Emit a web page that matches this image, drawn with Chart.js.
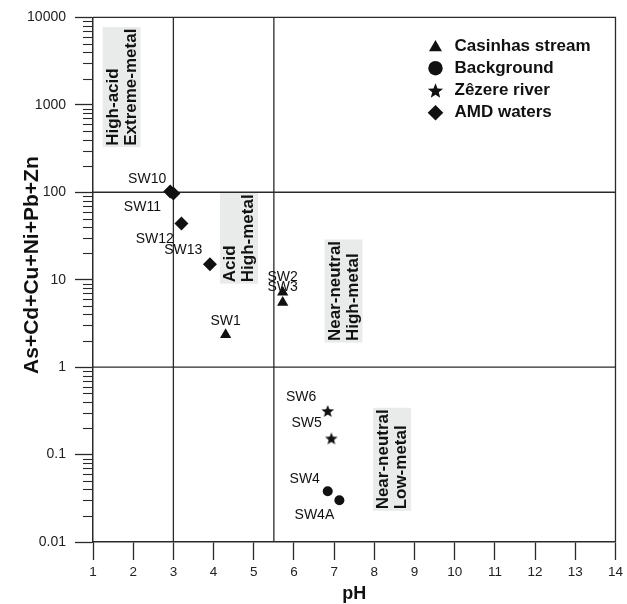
<!DOCTYPE html>
<html>
<head>
<meta charset="utf-8">
<title>pH vs As+Cd+Cu+Ni+Pb+Zn</title>
<script src="https://cdn.jsdelivr.net/npm/chart.js@4.4.1/dist/chart.umd.min.js"></script>
<style>
html,body{margin:0;padding:0;background:#ffffff;}
#box{position:relative;width:627px;height:604px;}
canvas{display:block;}
</style>
</head>
<body>
<div id="box"><canvas id="chart" width="627" height="604"></canvas></div>
<script>
// ---------------- data ----------------
const seriesNames = ['Casinhas stream', 'Background', 'Zêzere river', 'AMD waters'];

const casinhasSites = ['SW1', 'SW2', 'SW3'];
const casinhasPH    = [4.3, 5.72, 5.72];
const casinhasMetal = [2.35, 7.2, 5.5];

const backgroundSites = ['SW4', 'SW4A'];
const backgroundPH    = [6.84, 7.13];
const backgroundMetal = [0.038, 0.030];

const zezereSites = ['SW6', 'SW5'];
const zezerePH    = [6.84, 6.93];
const zezereMetal = [0.315, 0.153];

const amdSites = ['SW10', 'SW11', 'SW12', 'SW13'];
const amdPH    = [2.92, 3.0, 3.2, 3.91];
const amdMetal = [102, 97, 44, 15];

const phLimits    = [3, 5.5];
const metalLimits = [1, 100];

const xTickValues = [1, 2, 3, 4, 5, 6, 7, 8, 9, 10, 11, 12, 13, 14];
const yTickValues = [0.01, 0.1, 1, 10, 100, 1000, 10000];
const yTickLabels = ['0.01', '0.1', '1', '10', '100', '1000', '10000'];

const regionTexts = [
  ['High-acid', 'Extreme-metal'],
  ['Acid', 'High-metal'],
  ['Near-neutral', 'High-metal'],
  ['Near-neutral', 'Low-metal']
];

// ---------------- layout / style (not data) ----------------
const regionAnchorPH    = [1.24, 4.16, 6.76, 7.97];   // left edge of label box
const regionAnchorMetal = [327, 9.0, 1.91, 0.0227];   // bottom edge of label box

const labelOffsets = {
  SW1: [0, -13.5], SW2: [0, -15], SW3: [0, -15],
  SW4: [-23, -12], SW4A: [-25, 15.3],
  SW5: [-24.7, -15], SW6: [-26.6, -13.7],
  SW10: [-23, -12.5], SW11: [-31, 13.7], SW12: [-26.7, 15.5], SW13: [-26.7, -14.3]
};

const FONT = '"Liberation Sans", Arial, Helvetica, sans-serif';
const INK = '#111111';
const AXIS = '#2a2a2a';

function starCanvas(R, color) {
  const s = Math.ceil(2 * R + 2);
  const c = document.createElement('canvas');
  c.width = s; c.height = s;
  const g = c.getContext('2d');
  g.translate(s / 2, s / 2 + R * 0.1);
  g.beginPath();
  for (let k = 0; k < 10; k++) {
    const a = -Math.PI / 2 + k * Math.PI / 5;
    const r = (k % 2) ? R * 0.43 : R;
    g.lineTo(r * Math.cos(a), r * Math.sin(a));
  }
  g.closePath();
  g.fillStyle = color;
  g.fill();
  return c;
}

function pts(xs, ys, names) {
  return xs.map((x, i) => ({ x: x, y: ys[i], name: names ? names[i] : null }));
}

function isDecade(v) {
  const l = Math.log10(v);
  return Math.abs(l - Math.round(l)) < 1e-9;
}

function buildLogTicks() {
  const out = [];
  const lo = Math.round(Math.log10(yTickValues[0]));
  const hi = Math.round(Math.log10(yTickValues[yTickValues.length - 1]));
  for (let e = lo; e < hi; e++) {
    for (let m = 1; m <= 9; m++) out.push({ value: Number((m * Math.pow(10, e)).toPrecision(12)) });
  }
  out.push({ value: yTickValues[yTickValues.length - 1] });
  return out;
}

const markerStyles = ['triangle', 'circle', starCanvas(6.6, INK), 'rectRot'];
const markerRadius = [6.5, 5, 6.6, 7];

const datasets = [
  { label: seriesNames[0], data: pts(casinhasPH, casinhasMetal, casinhasSites) },
  { label: seriesNames[1], data: pts(backgroundPH, backgroundMetal, backgroundSites) },
  { label: seriesNames[2], data: pts(zezerePH, zezereMetal, zezereSites) },
  { label: seriesNames[3], data: pts(amdPH, amdMetal, amdSites) }
].map((d, i) => Object.assign(d, {
  pointStyle: markerStyles[i],
  pointRadius: markerRadius[i],
  backgroundColor: INK,
  borderColor: INK,
  borderWidth: 0,
  showLine: false,
  order: 1,
  isSeries: true
}));

const yMin = yTickValues[0], yMax = yTickValues[yTickValues.length - 1];
const xMin = xTickValues[0], xMax = xTickValues[xTickValues.length - 1];

phLimits.forEach(p => datasets.push({
  label: 'pH limit', data: [{ x: p, y: yMin }, { x: p, y: yMax }],
  showLine: true, pointRadius: 0, borderColor: AXIS, borderWidth: 1.3, order: 10
}));
metalLimits.forEach(m => datasets.push({
  label: 'metal limit', data: [{ x: xMin, y: m }, { x: xMax, y: m }],
  showLine: true, pointRadius: 0, borderColor: AXIS, borderWidth: 1.3, order: 10
}));

// ---------------- plugins ----------------
const framePlugin = {
  id: 'frame',
  afterDraw(chart) {
    const { ctx, chartArea: a, scales } = chart;
    ctx.save();
    ctx.strokeStyle = AXIS;
    ctx.lineWidth = 1.3;
    ctx.beginPath();
    ctx.moveTo(a.left, a.top);
    ctx.lineTo(a.right, a.top);
    ctx.lineTo(a.right, a.bottom);
    ctx.stroke();
    // minor log ticks (shorter)
    const y = scales.y;
    ctx.lineWidth = 1.1;
    y.ticks.forEach(t => {
      if (isDecade(t.value)) return;
      const py = Math.round(y.getPixelForValue(t.value)) + 0.5;
      ctx.beginPath();
      ctx.moveTo(a.left - 10, py);
      ctx.lineTo(a.left, py);
      ctx.stroke();
    });
    ctx.restore();
  }
};

const regionPlugin = {
  id: 'regions',
  beforeDatasetsDraw(chart) {
    const { ctx, scales } = chart;
    ctx.save();
    ctx.font = 'bold 17px ' + FONT;
    const lineH = 18, pad = 1.5;
    regionTexts.forEach((lines, i) => {
      const px = scales.x.getPixelForValue(regionAnchorPH[i]);
      const py = scales.y.getPixelForValue(regionAnchorMetal[i]);
      const w = Math.max(...lines.map(l => ctx.measureText(l).width)) + 2 * pad;
      const h = lines.length * lineH + 2;
      ctx.save();
      ctx.translate(px, py);
      ctx.rotate(-Math.PI / 2);
      ctx.fillStyle = '#e9ebea';
      ctx.fillRect(0, 0, w, h);
      ctx.fillStyle = INK;
      ctx.textAlign = 'left';
      ctx.textBaseline = 'middle';
      lines.forEach((l, j) => ctx.fillText(l, pad, 1.5 + lineH / 2 + j * lineH));
      ctx.restore();
    });
    ctx.restore();
  }
};

const pointLabelPlugin = {
  id: 'pointLabels',
  afterDatasetsDraw(chart) {
    const { ctx } = chart;
    ctx.save();
    ctx.font = '14px ' + FONT;
    ctx.fillStyle = INK;
    ctx.textAlign = 'center';
    ctx.textBaseline = 'middle';
    chart.data.datasets.forEach((ds, di) => {
      if (!ds.isSeries) return;
      const meta = chart.getDatasetMeta(di);
      meta.data.forEach((el, j) => {
        const name = ds.data[j].name;
        const off = labelOffsets[name] || [0, -14];
        ctx.fillText(name, el.x + off[0], el.y + off[1]);
      });
    });
    ctx.restore();
  }
};

function drawMarker(ctx, kind, x, y, r) {
  ctx.beginPath();
  if (kind === 'triangle') {
    ctx.moveTo(x, y - r);
    ctx.lineTo(x + r * 0.866, y + r * 0.5);
    ctx.lineTo(x - r * 0.866, y + r * 0.5);
    ctx.closePath();
  } else if (kind === 'circle') {
    ctx.arc(x, y, r, 0, Math.PI * 2);
  } else if (kind === 'star') {
    for (let k = 0; k < 10; k++) {
      const a = -Math.PI / 2 + k * Math.PI / 5;
      const rr = (k % 2) ? r * 0.43 : r;
      ctx.lineTo(x + rr * Math.cos(a), y + rr * Math.sin(a));
    }
    ctx.closePath();
  } else {
    ctx.moveTo(x, y - r); ctx.lineTo(x + r, y); ctx.lineTo(x, y + r); ctx.lineTo(x - r, y);
    ctx.closePath();
  }
  ctx.fill();
}

const legendPlugin = {
  id: 'customLegend',
  afterDraw(chart) {
    const { ctx, chartArea: a } = chart;
    const kinds = ['triangle', 'circle', 'star', 'diamond'];
    const sizes = [7.5, 7.2, 8, 7.8];
    const mx = a.right - 180, tx = a.right - 161, y0 = a.top + 28.5, dy = 22.3;
    ctx.save();
    ctx.fillStyle = INK;
    ctx.font = 'bold 17px ' + FONT;
    ctx.textAlign = 'left';
    ctx.textBaseline = 'middle';
    seriesNames.forEach((n, i) => {
      const y = y0 + i * dy;
      drawMarker(ctx, kinds[i], mx, y + (i === 0 ? 1.5 : (i === 2 ? 0.8 : 0)), sizes[i]);
      ctx.fillText(n, tx, y);
    });
    ctx.restore();
  }
};

// ---------------- chart ----------------
new Chart(document.getElementById('chart'), {
  type: 'scatter',
  data: { datasets: datasets },
  options: {
    responsive: false,
    devicePixelRatio: 1,
    animation: false,
    events: [],
    layout: { padding: { top: 16, right: 8, left: 0, bottom: 0 } },
    plugins: { legend: { display: false }, tooltip: { enabled: false } },
    scales: {
      x: {
        type: 'linear',
        min: xMin, max: xMax,
        afterBuildTicks: s => { s.ticks = xTickValues.map(v => ({ value: v })); },
        afterFit: s => { s.height = 62; },
        ticks: { autoSkip: false, maxRotation: 0, padding: 4, color: '#222', font: { family: FONT, size: 13.5 } },
        grid: { drawOnChartArea: false, drawTicks: true, tickLength: 18, tickWidth: 1.3, tickColor: AXIS },
        border: { display: true, color: AXIS, width: 1.5 },
        title: { display: true, text: 'pH', color: INK, font: { family: FONT, size: 18, weight: 'bold', lineHeight: 1 }, padding: { top: 0, bottom: 1 } }
      },
      y: {
        type: 'logarithmic',
        min: yMin, max: yMax,
        afterBuildTicks: s => { s.ticks = buildLogTicks(); },
        afterFit: s => { s.width = 93; },
        ticks: {
          autoSkip: false, padding: 9, color: '#222', font: { family: FONT, size: 14 },
          callback: (v) => {
            const k = yTickValues.findIndex(t => Math.abs(Math.log10(t) - Math.log10(v)) < 1e-9);
            return k >= 0 ? yTickLabels[k] : '';
          }
        },
        grid: {
          drawOnChartArea: false, drawTicks: true, tickLength: 18, tickWidth: 1.3,
          tickColor: c => (c.tick && isDecade(c.tick.value)) ? AXIS : 'rgba(0,0,0,0)'
        },
        border: { display: true, color: AXIS, width: 1.5 },
        title: { display: true, text: '     As+Cd+Cu+Ni+Pb+Zn', color: INK, font: { family: FONT, size: 21, weight: 'bold', lineHeight: 1.2 }, padding: { top: 20, bottom: 0 } }
      }
    }
  },
  plugins: [regionPlugin, pointLabelPlugin, framePlugin, legendPlugin]
});
</script>
</body>
</html>
